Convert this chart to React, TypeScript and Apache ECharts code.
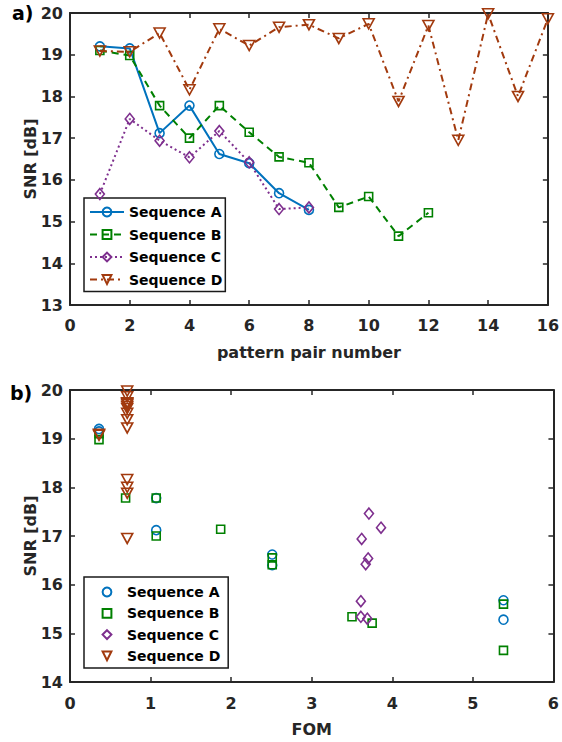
import React, { useEffect, useRef } from "react";
import * as echarts from "echarts";

// ---- data (panel a: SNR per pattern pair) ----
const pairNumbers = [1, 2, 3, 4, 5, 6, 7, 8, 9, 10, 11, 12, 13, 14, 15, 16];
const snrA = [19.2, 19.15, 17.12, 17.78, 16.62, 16.4, 15.68, 15.28];
const snrB = [19.1, 18.98, 17.78, 17.0, 17.78, 17.14, 16.55, 16.41, 15.34, 15.6, 14.65, 15.21];
const snrC = [15.66, 17.46, 16.94, 16.54, 17.17, 16.42, 15.3, 15.34];
const snrD = [19.09, 19.07, 19.52, 18.16, 19.62, 19.22, 19.66, 19.72, 19.39, 19.74, 17.88, 19.7, 16.95, 19.98, 18.0, 19.86];

// ---- data (panel b: FOM of each pattern pair) ----
const fomA = [0.36, 0.36, 1.07, 1.07, 2.51, 2.51, 5.38, 5.38];
const fomB = [0.36, 0.36, 0.69, 1.07, 1.07, 1.87, 2.51, 2.51, 3.5, 5.38, 5.38, 3.75];
const fomC = [3.61, 3.71, 3.62, 3.7, 3.86, 3.67, 3.69, 3.61];
const fomD = [0.36, 0.36, 0.71, 0.71, 0.71, 0.71, 0.71, 0.71, 0.71, 0.71, 0.71, 0.71, 0.71, 0.71, 0.71, 0.71];

const seriesNames = ["Sequence A", "Sequence B", "Sequence C", "Sequence D"];
const panelLabels = ["a)", "b)"];
const xNameTop = "pattern pair number";
const xNameBottom = "FOM";
const yName = "SNR [dB]";

const COL = ["#0072BD", "#008000", "#7E2F8E", "#A23A0E"];
const FONT = "'DejaVu Sans', sans-serif";
const AX = "#262626";
const TRI_DOWN = "path://M0,0L10,0L5,9Z";
const SYMBOLS: any[] = ["circle", "rect", "diamond", TRI_DOWN];
const SIZES: any[] = [9, 8, [9, 11], [11, 10]];
const DASH: any[] = ["solid", [7, 5], [2, 3], [7, 4, 2, 4]];

function zip(xs: number[], ys: number[]) {
  return ys.map((y, i) => [xs[i], y]);
}

function xAxis(grid: number, min: number, max: number, interval: number, pos: string, main: boolean, name: string, nameGap: number, margin: number) {
  return {
    type: "value",
    gridIndex: grid,
    position: pos,
    min,
    max,
    interval,
    name: main ? name : "",
    nameLocation: "middle",
    nameGap,
    nameMoveOverlap: false,
    nameTextStyle: { fontFamily: FONT, fontWeight: "bold", fontSize: 16, color: AX },
    axisLine: { show: true, onZero: false, lineStyle: { color: AX, width: 2 } },
    axisTick: { show: true, inside: true, length: 5, lineStyle: { color: AX, width: 1.5 } },
    axisLabel: { show: main, margin, fontFamily: FONT, fontWeight: "bold", fontSize: 16, color: AX },
    splitLine: { show: false },
  };
}

function yAxis(grid: number, min: number, max: number, pos: string, main: boolean) {
  return {
    type: "value",
    gridIndex: grid,
    position: pos,
    min,
    max,
    interval: 1,
    name: main ? yName : "",
    nameLocation: "middle",
    nameGap: 32,
    nameMoveOverlap: false,
    nameRotate: 90,
    nameTextStyle: { fontFamily: FONT, fontWeight: "bold", fontSize: 16, color: AX },
    axisLine: { show: true, onZero: false, lineStyle: { color: AX, width: 2 } },
    axisTick: { show: true, inside: true, length: 5, lineStyle: { color: AX, width: 1.5 } },
    axisLabel: { show: main, margin: 7, fontFamily: FONT, fontWeight: "bold", fontSize: 16, color: AX },
    splitLine: { show: false },
  };
}

export default function App() {
  const ref = useRef<HTMLDivElement>(null);

  useEffect(() => {
    const chart = echarts.init(ref.current!, null, { renderer: "svg" });
    const topData = [snrA, snrB, snrC, snrD];
    const foms = [fomA, fomB, fomC, fomD];

    const lineSeries = topData.map((vals, i) => ({
      type: "line",
      name: seriesNames[i],
      xAxisIndex: 0,
      yAxisIndex: 0,
      data: zip(pairNumbers, vals),
      symbol: SYMBOLS[i],
      symbolSize: SIZES[i],
      showAllSymbol: true,
      lineStyle: { color: COL[i], width: 2, type: DASH[i] },
      itemStyle: { color: "rgba(0,0,0,0)", borderColor: COL[i], borderWidth: 1.6 },
      emphasis: { disabled: true },
      z: 3 + i,
    }));

    // markers only: drawn as line series whose connecting line is invisible
    const markerSeries = topData.map((vals, i) => ({
      type: "line",
      name: seriesNames[i] + " ",
      xAxisIndex: 2,
      yAxisIndex: 2,
      data: zip(foms[i], vals),
      symbol: SYMBOLS[i],
      symbolSize: SIZES[i],
      showAllSymbol: true,
      lineStyle: { color: COL[i], width: 0, opacity: 0 },
      itemStyle: { color: "rgba(0,0,0,0)", borderColor: COL[i], borderWidth: 1.6 },
      emphasis: { disabled: true },
      z: 3 + i,
    }));

    const legendText = { fontFamily: FONT, fontWeight: "bold", fontSize: 14, color: "#000", lineHeight: 14 };

    chart.setOption({
      animation: false,
      backgroundColor: "#fff",
      grid: [
        { left: 70, top: 13, width: 484, height: 292 },
        { left: 70, top: 390, width: 484, height: 292 },
      ],
      xAxis: [
        xAxis(0, 0, 16, 2, "bottom", true, xNameTop, 39, 12),
        xAxis(0, 0, 16, 2, "top", false, "", 0, 0),
        xAxis(1, 0, 6, 1, "bottom", true, xNameBottom, 39, 13),
        xAxis(1, 0, 6, 1, "top", false, "", 0, 0),
      ],
      yAxis: [
        yAxis(0, 13, 20, "left", true),
        yAxis(0, 13, 20, "right", false),
        yAxis(1, 14, 20, "left", true),
        yAxis(1, 14, 20, "right", false),
      ],
      legend: [
        {
          data: seriesNames,
          orient: "vertical",
          left: 84,
          top: 198,
          itemWidth: 34,
          itemHeight: 11,
          itemGap: 8.5,
          padding: [7, 3, 5, 5],
          backgroundColor: "#fff",
          borderColor: "#1a1a1a",
          borderWidth: 1.5,
          selectedMode: false,
          textStyle: legendText,
        },
        {
          data: seriesNames.map((n) => n + " "),
          orient: "vertical",
          left: 84,
          top: 577,
          itemWidth: 30,
          itemHeight: 11,
          itemGap: 7.3,
          padding: [8, 3, 5, 8],
          backgroundColor: "#fff",
          borderColor: "#1a1a1a",
          borderWidth: 1.5,
          selectedMode: false,
          lineStyle: { opacity: 0, width: 0 },
          textStyle: legendText,
        },
      ],
      graphic: [
        { type: "text", left: 12, top: 3, style: { text: panelLabels[0], font: `bold 19px ${FONT}`, fill: "#000" } },
        { type: "text", left: 10, top: 383, style: { text: panelLabels[1], font: `bold 19px ${FONT}`, fill: "#000" } },
      ],
      series: [...lineSeries, ...markerSeries],
    });

    return () => chart.dispose();
  }, []);

  return (
    <div
      ref={ref}
      style={{ position: "absolute", left: 0, top: 0, width: 562, height: 742, background: "#fff" }}
    />
  );
}
